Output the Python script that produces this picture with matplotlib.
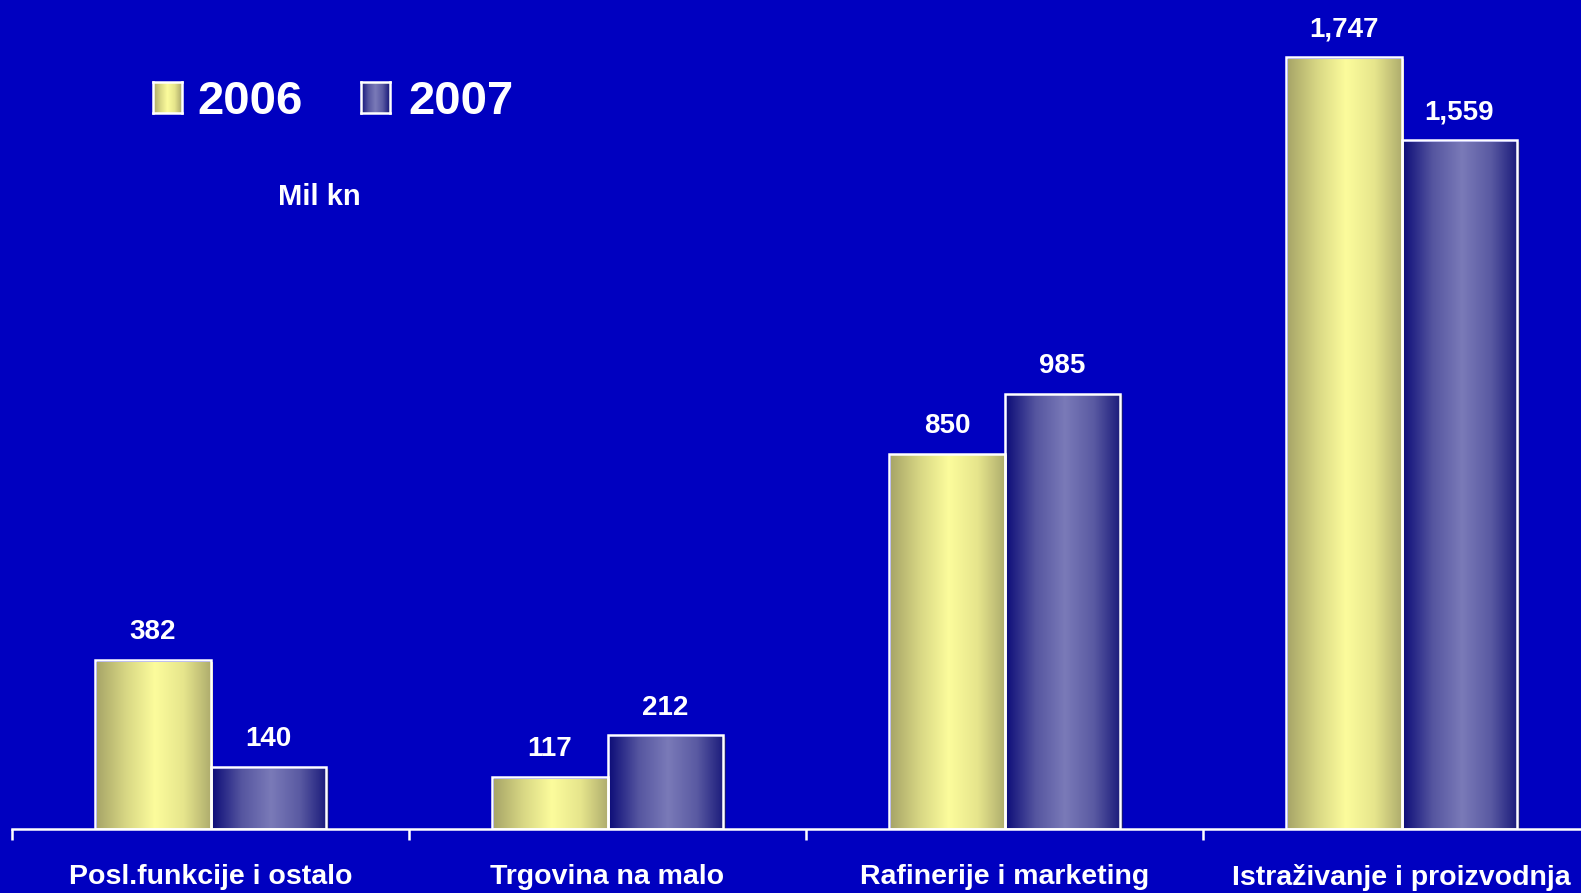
import matplotlib
matplotlib.use("Agg")
import matplotlib.pyplot as plt
import numpy as np
from matplotlib.colors import LinearSegmentedColormap
from matplotlib.transforms import ScaledTranslation

# ------------------------------------------------------------------
# data (Mil kn)
# ------------------------------------------------------------------
categories = ["Posl.funkcije i ostalo", "Trgovina na malo",
              "Rafinerije i marketing", "Istraživanje i proizvodnja"]
years = ["2006", "2007"]
values_2006 = [382, 117, 850, 1747]
values_2007 = [140, 212, 985, 1559]

BG = "#0000C0"
FONT = "Liberation Sans"

yellow_cmap = LinearSegmentedColormap.from_list(
    "yel", ["#A8A668", "#D8D784", "#FCFC9C", "#E6E58C", "#ABA96B"])
blue_cmap = LinearSegmentedColormap.from_list(
    "blu", ["#10107A", "#5656A0", "#7A7AB8", "#5A5AA2", "#161678"])

fig = plt.figure(figsize=(15.81, 8.93), dpi=100)
fig.patch.set_facecolor(BG)
ax = fig.add_axes([12 / 1581, 64 / 893, 1588 / 1581, 829 / 893])
ax.set_facecolor(BG)

x = np.arange(len(categories))
w = 0.29
grad = np.linspace(0, 1, 256).reshape(1, -1)
shadow = ScaledTranslation(2 / 100, -2 / 100, fig.dpi_scale_trans)

for vals, offset, cmap in [(values_2006, -w / 2, yellow_cmap),
                           (values_2007, w / 2, blue_cmap)]:
    bars = ax.bar(x + offset, vals, width=w, facecolor="none",
                  edgecolor="white", linewidth=1.8, zorder=4)
    for b, v in zip(bars, vals):
        x0, y0 = b.get_x(), b.get_y()
        im = ax.imshow(grad, cmap=cmap, aspect="auto", interpolation="bilinear",
                       extent=[x0, x0 + b.get_width(), y0, y0 + b.get_height()],
                       zorder=3)
        im.set_transform(ax.transData + shadow)
        ax.annotate(f"{v:,}", (b.get_x() + b.get_width() / 2, v),
                    xytext=(0, 15), textcoords="offset points",
                    ha="center", va="baseline", color="white",
                    fontsize=20, fontweight="bold", family=FONT)

ax.set_xlim(-0.5, 3.5)
ax.set_ylim(0, 1877)

for s in ["left", "right", "top"]:
    ax.spines[s].set_visible(False)
ax.spines["bottom"].set_color("white")
ax.spines["bottom"].set_linewidth(1.8)
ax.spines["bottom"].set_zorder(5)
ax.set_yticks([])
ax.set_xticks(np.arange(-0.5, 3.6, 1.0))
ax.set_xticklabels([])
ax.tick_params(axis="x", which="major", direction="out", length=8,
               width=1.8, color="white")
ax.set_xticks(x, minor=True)
ax.set_xticklabels(categories, minor=True)
ax.tick_params(axis="x", which="minor", length=0, pad=25)
for lbl in ax.get_xticklabels(minor=True):
    lbl.set_color("white")
    lbl.set_fontsize(20.5)
    lbl.set_fontweight("bold")
    lbl.set_family(FONT)

# legend drawn by hand, like the original slide
for (lx, tx), cmap, yr in zip([(153, 197), (361, 408)],
                              [yellow_cmap, blue_cmap], years):
    sq = fig.add_axes([lx / 1581, (893 - 113) / 893, 29 / 1581, 31 / 893])
    sq.imshow(grad, cmap=cmap, aspect="auto", interpolation="bilinear")
    sq.set_xticks([])
    sq.set_yticks([])
    for sp in sq.spines.values():
        sp.set_color("white")
        sp.set_linewidth(1.8)
    fig.text(tx / 1581, 1 - 102 / 893, yr, color="white", fontsize=34,
             fontweight="bold", family=FONT, va="center", ha="left")

fig.text(278 / 1581, 1 - 197 / 893, "Mil kn", color="white", fontsize=21,
         fontweight="bold", family=FONT, va="center", ha="left")

fig.savefig("out.png", dpi=100, facecolor=fig.get_facecolor())
